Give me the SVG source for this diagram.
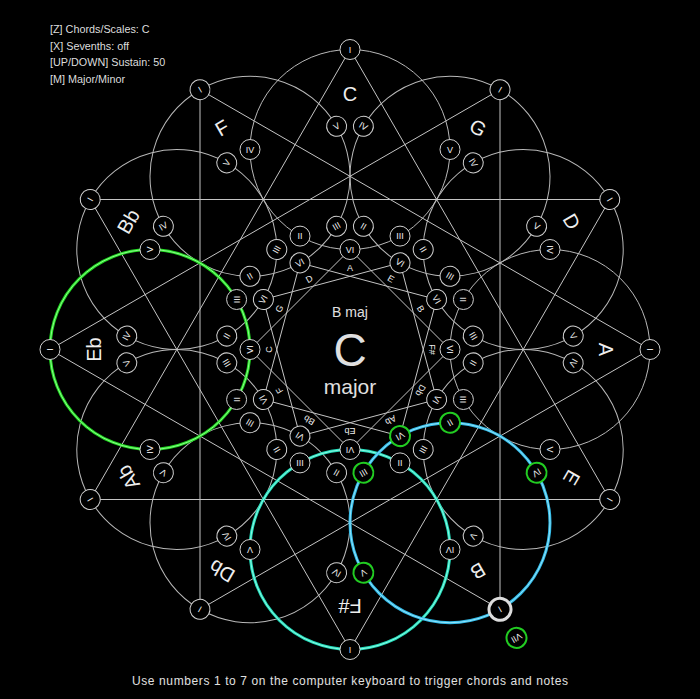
<svg xmlns="http://www.w3.org/2000/svg" width="700" height="699" viewBox="0 0 700 699">
<style>
.kc{fill:none;stroke:#b8b8b8;stroke-width:1}
.ln{fill:none;stroke:#c4c4c4;stroke-width:1}
.nd circle{fill:#000;stroke:#d0d0d0;stroke-width:1}
.nd text{fill:#eeeeee;font-family:"Liberation Sans",Arial,sans-serif;font-size:9px;text-anchor:middle;dominant-baseline:central}
.nd.hl circle{stroke:#22cc22;stroke-width:2}
.nd.cur circle{stroke:#dddddd;stroke-width:3}
.kl{fill:#eeeeee;font-family:"Liberation Sans",Arial,sans-serif;font-size:20px;text-anchor:middle;dominant-baseline:central}
.ml{fill:#eeeeee;font-family:"Liberation Sans",Arial,sans-serif;font-size:9px;text-anchor:middle;dominant-baseline:central}
.ui{fill:#dddddd;font-family:"Liberation Sans",Arial,sans-serif;font-size:10.8px}
.ct{fill:#e0e0e0;font-family:"Liberation Sans",Arial,sans-serif;text-anchor:middle}
</style>
<rect width="700" height="699" fill="#000"/>

<g id="info">
<text class="ui" x="50" y="33">[Z] Chords/Scales: C</text>
<text class="ui" x="50" y="50">[X] Sevenths: off</text>
<text class="ui" x="50" y="66">[UP/DOWN] Sustain: 50</text>
<text class="ui" x="50" y="83">[M] Major/Minor</text>
</g>

<g id="key-circles">
<circle class="kc" cx="350" cy="149.5" r="100" transform="rotate(0 350 349.5)"/>
<circle class="kc" cx="350" cy="149.5" r="100" transform="rotate(30 350 349.5)"/>
<circle class="kc" cx="350" cy="149.5" r="100" transform="rotate(60 350 349.5)"/>
<circle class="kc" cx="350" cy="149.5" r="100" transform="rotate(90 350 349.5)"/>
<circle class="kc" cx="350" cy="149.5" r="100" transform="rotate(120 350 349.5)"/>
<circle class="kc" cx="350" cy="149.5" r="100" transform="rotate(150 350 349.5)"/>
<circle class="kc" cx="350" cy="149.5" r="100" transform="rotate(180 350 349.5)"/>
<circle class="kc" cx="350" cy="149.5" r="100" transform="rotate(210 350 349.5)"/>
<circle class="kc" cx="350" cy="149.5" r="100" transform="rotate(240 350 349.5)"/>
<circle class="kc" cx="350" cy="149.5" r="100" transform="rotate(270 350 349.5)"/>
<circle class="kc" cx="350" cy="149.5" r="100" transform="rotate(300 350 349.5)"/>
<circle class="kc" cx="350" cy="149.5" r="100" transform="rotate(330 350 349.5)"/>
</g>

<g id="connectors">
<polygon class="ln" points="350,49.5 609.81,499.5 90.19,499.5"/>
<polygon class="ln" points="500,89.69 500,609.31 50,349.5"/>
<polygon class="ln" points="609.81,199.5 350,649.5 90.19,199.5"/>
<polygon class="ln" points="650,349.5 200,609.31 200,89.69"/>
<polygon class="ln" points="350,249.5 450,349.5 350,449.5 250,349.5"/>
<polygon class="ln" points="400,262.9 436.6,399.5 300,436.1 263.4,299.5"/>
<polygon class="ln" points="436.6,299.5 400,436.1 263.4,399.5 300,262.9"/>
</g>

<g id="highlight-circles">
<circle cx="150" cy="349.5" r="100" fill="none" stroke="#22dd22" stroke-width="3"/>
<circle cx="150" cy="349.5" r="100" fill="none" stroke="#aaffaa" stroke-width="0.8"/>
<circle cx="350" cy="549.5" r="100" fill="none" stroke="#22ddbb" stroke-width="3"/>
<circle cx="350" cy="549.5" r="100" fill="none" stroke="#aaffee" stroke-width="0.8"/>
<circle cx="450" cy="522.7" r="100" fill="none" stroke="#33bbe8" stroke-width="3"/>
<circle cx="450" cy="522.7" r="100" fill="none" stroke="#aaeeff" stroke-width="0.8"/>
</g>

<g id="labels">
<g transform="rotate(0 350 349.5)"><text class="kl" x="350" y="93.5">C</text><text class="ml" x="350" y="268">A</text></g>
<g transform="rotate(30 350 349.5)"><text class="kl" x="350" y="93.5">G</text><text class="ml" x="350" y="268">E</text></g>
<g transform="rotate(60 350 349.5)"><text class="kl" x="350" y="93.5">D</text><text class="ml" x="350" y="268">B</text></g>
<g transform="rotate(90 350 349.5)"><text class="kl" x="350" y="93.5">A</text><text class="ml" x="350" y="268">F#</text></g>
<g transform="rotate(120 350 349.5)"><text class="kl" x="350" y="93.5">E</text><text class="ml" x="350" y="268">Db</text></g>
<g transform="rotate(150 350 349.5)"><text class="kl" x="350" y="93.5">B</text><text class="ml" x="350" y="268">Ab</text></g>
<g transform="rotate(180 350 349.5)"><text class="kl" x="350" y="93.5">F#</text><text class="ml" x="350" y="268">Eb</text></g>
<g transform="rotate(210 350 349.5)"><text class="kl" x="350" y="93.5">Db</text><text class="ml" x="350" y="268">Bb</text></g>
<g transform="rotate(240 350 349.5)"><text class="kl" x="350" y="93.5">Ab</text><text class="ml" x="350" y="268">F</text></g>
<g transform="rotate(270 350 349.5)"><text class="kl" x="350" y="93.5">Eb</text><text class="ml" x="350" y="268">C</text></g>
<g transform="rotate(300 350 349.5)"><text class="kl" x="350" y="93.5">Bb</text><text class="ml" x="350" y="268">G</text></g>
<g transform="rotate(330 350 349.5)"><text class="kl" x="350" y="93.5">F</text><text class="ml" x="350" y="268">D</text></g>
</g>

<g id="nodes-C" transform="rotate(0 350 349.5)">
<g id="C-I" class="nd"><circle cx="350" cy="49.5" r="10"/><text x="350" y="49.5">I</text></g>
<g id="C-V" class="nd"><circle cx="450" cy="149.5" r="10"/><text x="450" y="149.5">V</text></g>
<g id="C-IV" class="nd"><circle cx="250" cy="149.5" r="10"/><text x="250" y="149.5">IV</text></g>
<g id="C-III" class="nd"><circle cx="400" cy="236.1" r="10"/><text x="400" y="236.1">III</text></g>
<g id="C-II" class="nd"><circle cx="300" cy="236.1" r="10"/><text x="300" y="236.1">II</text></g>
<g id="C-VI" class="nd"><circle cx="350" cy="249.5" r="10"/><text x="350" y="249.5">VI</text></g>
</g>
<g id="nodes-G" transform="rotate(30 350 349.5)">
<g id="G-I" class="nd"><circle cx="350" cy="49.5" r="10"/><text x="350" y="49.5">I</text></g>
<g id="G-V" class="nd"><circle cx="450" cy="149.5" r="10"/><text x="450" y="149.5">V</text></g>
<g id="G-IV" class="nd"><circle cx="250" cy="149.5" r="10"/><text x="250" y="149.5">IV</text></g>
<g id="G-III" class="nd"><circle cx="400" cy="236.1" r="10"/><text x="400" y="236.1">III</text></g>
<g id="G-II" class="nd"><circle cx="300" cy="236.1" r="10"/><text x="300" y="236.1">II</text></g>
<g id="G-VI" class="nd"><circle cx="350" cy="249.5" r="10"/><text x="350" y="249.5">VI</text></g>
</g>
<g id="nodes-D" transform="rotate(60 350 349.5)">
<g id="D-I" class="nd"><circle cx="350" cy="49.5" r="10"/><text x="350" y="49.5">I</text></g>
<g id="D-V" class="nd"><circle cx="450" cy="149.5" r="10"/><text x="450" y="149.5">V</text></g>
<g id="D-IV" class="nd"><circle cx="250" cy="149.5" r="10"/><text x="250" y="149.5">IV</text></g>
<g id="D-III" class="nd"><circle cx="400" cy="236.1" r="10"/><text x="400" y="236.1">III</text></g>
<g id="D-II" class="nd"><circle cx="300" cy="236.1" r="10"/><text x="300" y="236.1">II</text></g>
<g id="D-VI" class="nd"><circle cx="350" cy="249.5" r="10"/><text x="350" y="249.5">VI</text></g>
</g>
<g id="nodes-A" transform="rotate(90 350 349.5)">
<g id="A-I" class="nd"><circle cx="350" cy="49.5" r="10"/><text x="350" y="49.5">I</text></g>
<g id="A-V" class="nd"><circle cx="450" cy="149.5" r="10"/><text x="450" y="149.5">V</text></g>
<g id="A-IV" class="nd"><circle cx="250" cy="149.5" r="10"/><text x="250" y="149.5">IV</text></g>
<g id="A-III" class="nd"><circle cx="400" cy="236.1" r="10"/><text x="400" y="236.1">III</text></g>
<g id="A-II" class="nd"><circle cx="300" cy="236.1" r="10"/><text x="300" y="236.1">II</text></g>
<g id="A-VI" class="nd"><circle cx="350" cy="249.5" r="10"/><text x="350" y="249.5">VI</text></g>
</g>
<g id="nodes-E" transform="rotate(120 350 349.5)">
<g id="E-I" class="nd"><circle cx="350" cy="49.5" r="10"/><text x="350" y="49.5">I</text></g>
<g id="E-V" class="nd"><circle cx="450" cy="149.5" r="10"/><text x="450" y="149.5">V</text></g>
<g id="E-IV" class="nd"><circle cx="250" cy="149.5" r="10"/><text x="250" y="149.5">IV</text></g>
<g id="E-III" class="nd"><circle cx="400" cy="236.1" r="10"/><text x="400" y="236.1">III</text></g>
<g id="E-II" class="nd"><circle cx="300" cy="236.1" r="10"/><text x="300" y="236.1">II</text></g>
<g id="E-VI" class="nd"><circle cx="350" cy="249.5" r="10"/><text x="350" y="249.5">VI</text></g>
</g>
<g id="nodes-B" transform="rotate(150 350 349.5)">
<g id="B-I" class="nd cur"><circle cx="350" cy="49.5" r="11"/><text x="350" y="49.5">I</text></g>
<g id="B-V" class="nd hl"><circle cx="450" cy="149.5" r="10"/><text x="450" y="149.5">V</text></g>
<g id="B-IV" class="nd hl"><circle cx="250" cy="149.5" r="10"/><text x="250" y="149.5">IV</text></g>
<g id="B-III" class="nd hl"><circle cx="400" cy="236.1" r="10"/><text x="400" y="236.1">III</text></g>
<g id="B-II" class="nd hl"><circle cx="300" cy="236.1" r="10"/><text x="300" y="236.1">II</text></g>
<g id="B-VI" class="nd hl"><circle cx="350" cy="249.5" r="10"/><text x="350" y="249.5">VI</text></g>
<g id="B-VII" class="nd hl"><circle cx="350" cy="16.5" r="10"/><text x="350" y="16.5">VII</text></g>
</g>
<g id="nodes-Fs" transform="rotate(180 350 349.5)">
<g id="Fs-I" class="nd"><circle cx="350" cy="49.5" r="10"/><text x="350" y="49.5">I</text></g>
<g id="Fs-V" class="nd"><circle cx="450" cy="149.5" r="10"/><text x="450" y="149.5">V</text></g>
<g id="Fs-IV" class="nd"><circle cx="250" cy="149.5" r="10"/><text x="250" y="149.5">IV</text></g>
<g id="Fs-III" class="nd"><circle cx="400" cy="236.1" r="10"/><text x="400" y="236.1">III</text></g>
<g id="Fs-II" class="nd"><circle cx="300" cy="236.1" r="10"/><text x="300" y="236.1">II</text></g>
<g id="Fs-VI" class="nd"><circle cx="350" cy="249.5" r="10"/><text x="350" y="249.5">VI</text></g>
</g>
<g id="nodes-Db" transform="rotate(210 350 349.5)">
<g id="Db-I" class="nd"><circle cx="350" cy="49.5" r="10"/><text x="350" y="49.5">I</text></g>
<g id="Db-V" class="nd"><circle cx="450" cy="149.5" r="10"/><text x="450" y="149.5">V</text></g>
<g id="Db-IV" class="nd"><circle cx="250" cy="149.5" r="10"/><text x="250" y="149.5">IV</text></g>
<g id="Db-III" class="nd"><circle cx="400" cy="236.1" r="10"/><text x="400" y="236.1">III</text></g>
<g id="Db-II" class="nd"><circle cx="300" cy="236.1" r="10"/><text x="300" y="236.1">II</text></g>
<g id="Db-VI" class="nd"><circle cx="350" cy="249.5" r="10"/><text x="350" y="249.5">VI</text></g>
</g>
<g id="nodes-Ab" transform="rotate(240 350 349.5)">
<g id="Ab-I" class="nd"><circle cx="350" cy="49.5" r="10"/><text x="350" y="49.5">I</text></g>
<g id="Ab-V" class="nd"><circle cx="450" cy="149.5" r="10"/><text x="450" y="149.5">V</text></g>
<g id="Ab-IV" class="nd"><circle cx="250" cy="149.5" r="10"/><text x="250" y="149.5">IV</text></g>
<g id="Ab-III" class="nd"><circle cx="400" cy="236.1" r="10"/><text x="400" y="236.1">III</text></g>
<g id="Ab-II" class="nd"><circle cx="300" cy="236.1" r="10"/><text x="300" y="236.1">II</text></g>
<g id="Ab-VI" class="nd"><circle cx="350" cy="249.5" r="10"/><text x="350" y="249.5">VI</text></g>
</g>
<g id="nodes-Eb" transform="rotate(270 350 349.5)">
<g id="Eb-I" class="nd"><circle cx="350" cy="49.5" r="10"/><text x="350" y="49.5">I</text></g>
<g id="Eb-V" class="nd"><circle cx="450" cy="149.5" r="10"/><text x="450" y="149.5">V</text></g>
<g id="Eb-IV" class="nd"><circle cx="250" cy="149.5" r="10"/><text x="250" y="149.5">IV</text></g>
<g id="Eb-III" class="nd"><circle cx="400" cy="236.1" r="10"/><text x="400" y="236.1">III</text></g>
<g id="Eb-II" class="nd"><circle cx="300" cy="236.1" r="10"/><text x="300" y="236.1">II</text></g>
<g id="Eb-VI" class="nd"><circle cx="350" cy="249.5" r="10"/><text x="350" y="249.5">VI</text></g>
</g>
<g id="nodes-Bb" transform="rotate(300 350 349.5)">
<g id="Bb-I" class="nd"><circle cx="350" cy="49.5" r="10"/><text x="350" y="49.5">I</text></g>
<g id="Bb-V" class="nd"><circle cx="450" cy="149.5" r="10"/><text x="450" y="149.5">V</text></g>
<g id="Bb-IV" class="nd"><circle cx="250" cy="149.5" r="10"/><text x="250" y="149.5">IV</text></g>
<g id="Bb-III" class="nd"><circle cx="400" cy="236.1" r="10"/><text x="400" y="236.1">III</text></g>
<g id="Bb-II" class="nd"><circle cx="300" cy="236.1" r="10"/><text x="300" y="236.1">II</text></g>
<g id="Bb-VI" class="nd"><circle cx="350" cy="249.5" r="10"/><text x="350" y="249.5">VI</text></g>
</g>
<g id="nodes-F" transform="rotate(330 350 349.5)">
<g id="F-I" class="nd"><circle cx="350" cy="49.5" r="10"/><text x="350" y="49.5">I</text></g>
<g id="F-V" class="nd"><circle cx="450" cy="149.5" r="10"/><text x="450" y="149.5">V</text></g>
<g id="F-IV" class="nd"><circle cx="250" cy="149.5" r="10"/><text x="250" y="149.5">IV</text></g>
<g id="F-III" class="nd"><circle cx="400" cy="236.1" r="10"/><text x="400" y="236.1">III</text></g>
<g id="F-II" class="nd"><circle cx="300" cy="236.1" r="10"/><text x="300" y="236.1">II</text></g>
<g id="F-VI" class="nd"><circle cx="350" cy="249.5" r="10"/><text x="350" y="249.5">VI</text></g>
</g>

<g id="center">
<text class="ct" x="350" y="317" font-size="14">B maj</text>
<text class="ct" x="350" y="366" font-size="46">C</text>
<text class="ct" x="350" y="394" font-size="21">major</text>
</g>

<text id="footer" class="ct" x="350" y="685" font-size="12" textLength="436" lengthAdjust="spacing">Use numbers 1 to 7 on the computer keyboard to trigger chords and notes</text>
</svg>
